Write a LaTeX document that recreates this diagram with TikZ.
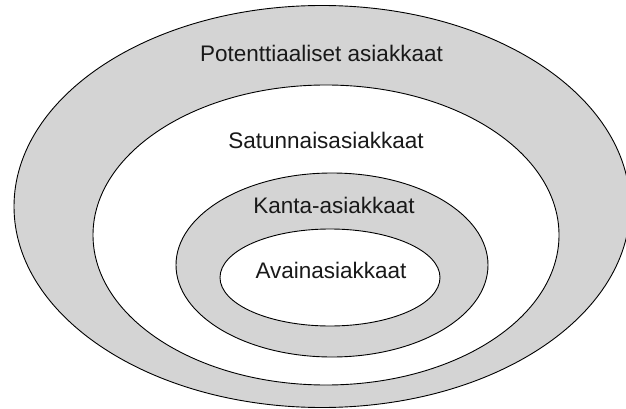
\documentclass[tikz,border=0pt]{standalone}
\usepackage{fontspec}
\setmainfont{Liberation Sans}
\usetikzlibrary{shapes.geometric}
\definecolor{ringgray}{HTML}{D4D4D4}
\begin{document}
\begin{tikzpicture}[x=1pt,y=-1pt,
  ring/.style={ellipse, draw=black, line width=0.9pt, inner sep=0pt},
  filled/.style={ring, fill=ringgray},
  blank/.style={ring, fill=white},
  caption/.style={anchor=base, inner sep=0pt, font=\fontsize{22.5}{26}\selectfont, text=black!90}
]
\useasboundingbox[fill=white] (0,0) rectangle (626,409);

% nested customer groups, outermost first
\node[filled, minimum width=616pt, minimum height=402pt] (potential) at (322,206.5) {};
\node[blank,  minimum width=466pt, minimum height=300pt] (occasional) at (326,235) {};
\node[filled, minimum width=312pt, minimum height=184pt] (regular) at (332,265) {};
\node[blank,  minimum width=220pt, minimum height=97pt]  (key) at (330,277.5) {};

% group labels
\node[caption] (tpotential)  at (321.5,62)  {Potenttiaaliset asiakkaat};
\node[caption] (toccasional) at (326,149)  {Satunnaisasiakkaat};
\node[caption] (tregular)    at (334,213)  {Kanta-asiakkaat};
\node[caption] (tkey)        at (331,278)  {Avainasiakkaat};
\end{tikzpicture}
\end{document}
